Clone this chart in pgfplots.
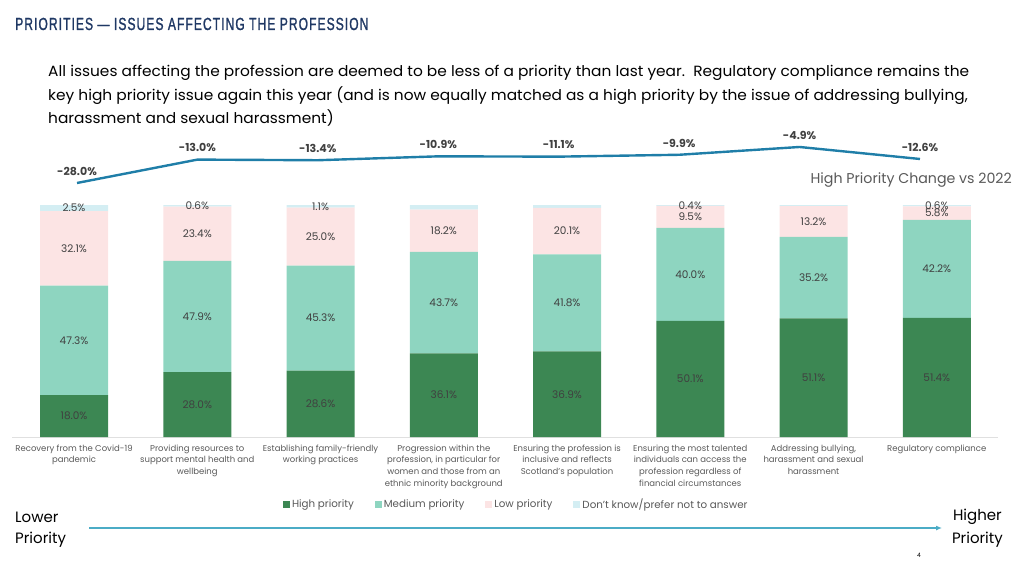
\documentclass[border=0pt]{standalone}
\usepackage{pgfplots}
\pgfplotsset{compat=1.18}
\usepackage{pgfplotstable}
\usepackage{fontspec}
\usetikzlibrary{arrows.meta}
\setmainfont{Poppins}
\newfontfamily\widefont[FakeStretch=1.04]{Poppins}
\newfontfamily\titlefont[FakeStretch=0.69,LetterSpace=6,FakeBold=1.2]{Liberation Sans}
\definecolor{hi}{HTML}{3C8753}
\definecolor{med}{HTML}{8ED5C0}
\definecolor{low}{HTML}{FCE4E4}
\definecolor{dk}{HTML}{D4EEF3}
\definecolor{navy}{HTML}{1F3864}
\definecolor{linec}{HTML}{1F7EA8}
\definecolor{txt}{HTML}{404040}
\definecolor{tickc}{HTML}{595959}
\definecolor{arrowc}{HTML}{4BACC6}

\pgfplotstableread{
x high med low dk chg
0 18.0 47.3 32.1 2.5 -28.0
1 28.0 47.9 23.4 0.6 -13.0
2 28.6 45.3 25.0 1.1 -13.4
3 36.1 43.7 18.2 2.1 -10.9
4 36.9 41.8 20.1 1.3 -11.1
5 50.1 40.0 9.5 0.4 -9.9
6 51.1 35.2 13.2 0.6 -4.9
7 51.4 42.2 5.8 0.6 -12.6
}\data

\begin{document}
\begin{tikzpicture}[x=1pt,y=1pt]
\path[use as bounding box] (0,0) rectangle (1024,576);

\begin{axis}[
  at={(12.4pt,139pt)}, anchor=south west,
  scale only axis, width=986pt, height=232pt,
  ybar stacked, bar width=68pt,
  xmin=-0.5, xmax=7.5, ymin=0, ymax=100,
  axis x line=bottom, axis y line=none,
  x axis line style={draw=black!12, -},
  xtick=data, xtick style={draw=none}, major tick length=0pt,
  xticklabels={{Recovery from the Covid-19\\pandemic},
    {Providing resources to\\support mental health and\\wellbeing},
    {Establishing family-friendly\\working practices},
    {Progression within the\\profession, in particular for\\women and those from an\\ethnic minority background},
    {Ensuring the profession is\\inclusive and reflects\\Scotland’s population},
    {Ensuring the most talented\\individuals can access the\\profession regardless of\\financial circumstances},
    {Addressing bullying,\\harassment and sexual\\harassment},
    {Regulatory compliance}},
  xticklabel style={font=\fontsize{8.5}{11.8}\selectfont, text=tickc, align=center, anchor=north, yshift=-4pt},
  nodes near coords={\pgfmathprintnumber[fixed,fixed zerofill,precision=1,assume math mode=true]{\rawy}\%},
  every node near coord/.append style={font=\fontsize{10.5}{11}\selectfont, text=txt, anchor=center},
  legend style={at={(0.511,-0.289)}, anchor=center, draw=none, legend columns=4,
    font=\fontsize{10.3}{11}\selectfont, text=tickc,
    /tikz/every even column/.append style={column sep=19pt}},
  legend image code/.code={\fill[#1, draw=none] (0pt,-3.5pt) rectangle (7pt,3.5pt);},
]
\addplot[fill=hi, draw=none, visualization depends on={\thisrow{high}\as\rawy}] table[x=x,y=high]{\data};
\addplot[fill=med, draw=none, visualization depends on={\thisrow{med}\as\rawy}] table[x=x,y=med]{\data};
\addplot[fill=low, draw=none, visualization depends on={\thisrow{low}\as\rawy}] table[x=x,y=low]{\data};
\addplot[fill=dk, draw=none, visualization depends on={\thisrow{dk}\as\rawy}] table[x=x,y=dk]{\data};
\legend{High priority, Medium priority, Low priority, Don’t know/prefer not to answer}
\end{axis}

\begin{axis}[
  at={(16.8pt,389.9pt)}, anchor=south west,
  scale only axis, width=963.4pt, height=46.75pt,
  xmin=-0.5, xmax=7.5, ymin=-30, ymax=0,
  axis lines=none, clip=false,
  point meta=y,
  nodes near coords={\pgfmathprintnumber[fixed,fixed zerofill,precision=1,assume math mode=true]{\pgfplotspointmeta}\%},
  every node near coord/.append style={font=\bfseries\fontsize{11}{12}\selectfont, text=txt, anchor=south, yshift=3pt},
]
\addplot[linec, line width=2.4pt, mark=none] table[x=x,y=chg]{\data};
\end{axis}

\node[anchor=base west, font=\titlefont\fontsize{17.5}{18}\selectfont, text=navy, inner sep=0] at (15,546) {PRIORITIES — ISSUES AFFECTING THE PROFESSION};

\begin{scope}[every node/.style={anchor=base west, inner sep=0, font=\widefont\fontsize{14.8}{16}\selectfont, text=black}]
\node at (48,499) {All issues affecting the profession are deemed to be less of a priority than last year.\ \ Regulatory compliance remains the};
\node at (48,475) {key high priority issue again this year (and is now equally matched as a high priority by the issue of addressing bullying,};
\node at (48,452) {harassment and sexual harassment)};
\end{scope}

\node[anchor=east, inner sep=0, font=\fontsize{14.2}{15}\selectfont, text=tickc] at (1012,396) {High Priority Change vs 2022};

\draw[arrowc, line width=1.3pt, -{Latex[length=6pt,width=5pt]}] (89,48) -- (942,48);
\node[anchor=west, inner sep=0, font=\fontsize{15}{16}\selectfont] at (15,59) {Lower};
\node[anchor=west, inner sep=0, font=\fontsize{15}{16}\selectfont] at (15,36) {Priority};
\node[anchor=east, inner sep=0, font=\fontsize{15}{16}\selectfont] at (1002,59) {Higher};
\node[anchor=east, inner sep=0, font=\fontsize{15}{16}\selectfont] at (1003,36) {Priority};
\node[inner sep=0, font=\fontsize{6}{7}\selectfont] at (919,21) {4};
\end{tikzpicture}
\end{document}
